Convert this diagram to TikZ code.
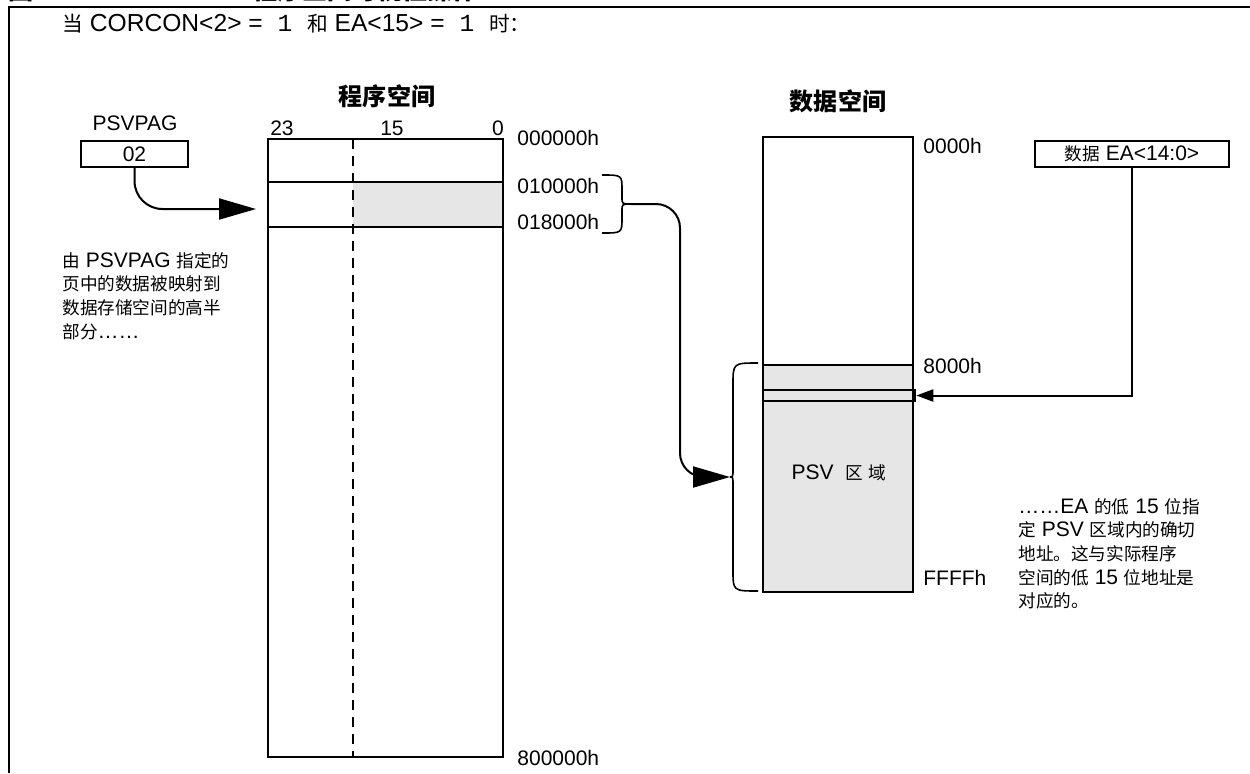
\documentclass[tikz,border=0pt]{standalone}
\usepackage{fontspec}
\setmainfont{Liberation Sans}
\newfontfamily\zhfont[Scale=0.84]{Noto Sans CJK SC}
\newfontfamily\onefont{Liberation Mono}
\usetikzlibrary{arrows.meta,positioning}
\definecolor{psvgray}{RGB}{230,230,230}
\newcommand{\zh}[1]{{\zhfont #1}}

\begin{document}
\begin{tikzpicture}[x=0.5pt,y=-0.5pt,>=Latex,
  every node/.style={font=\fontsize{10.5}{11.8}\selectfont,inner sep=0pt},
  heading/.style={font=\fontsize{14.3}{16}\selectfont\bfseries},
  figtitle/.style={font=\fontsize{14.9}{16}\selectfont\bfseries,anchor=base west},
  regbox/.style={draw,line width=0.8pt,minimum height=13pt},
  spacebox/.style={draw,line width=0.8pt},
  psvfill/.style={fill=psvgray},
  addr/.style={anchor=west},
  note/.style={align=left,anchor=north west},
  bigarrow/.style={-{Triangle[length=18.5pt,width=10.5pt]},line width=1pt},
  smallarrow/.style={-{Triangle[length=8.5pt,width=6pt]},line width=1pt},
  bracket/.style={line width=0.8pt}]
  \useasboundingbox (0,0) rectangle (1250,773);
  \clip (0,0) rectangle (1250,773);
  \node[figtitle] (fignum) at (8,-0.5) {\zh{图} 4-8\zh{：}};
  \node[figtitle] (figname) at (252,-0.5) {\zh{程序空间可视性操作}};
  \draw[line width=1pt] (8.5,773) -- (8.5,7) -- (1250,7);
  \node[anchor=west,font=\fontsize{12.3}{14}\selectfont] (cond) at (62,24)
    {\zh{当} CORCON<2> ={\onefont\ 1\ }\zh{和} EA<15> ={\onefont\ 1\ }\zh{时：}};

  % program space
  \node[heading] (progtitle) at (387,96) {\zh{程序空间}};
  \node (bit23) at (282,128) {23};
  \node (bit15) at (392,128) {15};
  \node (bit0) at (498,128) {0};
  \node[psvfill,minimum width=75pt,minimum height=22.5pt] (pagerow) at (428,204.5) {};
  \node[spacebox,minimum width=117.5pt,minimum height=309pt] (progbox) at (385.5,448) {};
  \draw[line width=0.8pt] (268,182) -- (503,182) (268,227) -- (503,227);
  \draw[line width=0.8pt,dash pattern=on 5pt off 3.5pt] (353,139) -- (353,757);
  \node[addr] (p000000) at (517,138) {000000h};
  \node[addr] (p010000) at (517,186) {010000h};
  \node[addr] (p018000) at (517,222) {018000h};
  \node[addr] (p800000) at (517,758) {800000h};

  \node (pagname) at (135,123) {PSVPAG};
  \node[regbox,minimum width=53.5pt] (pagbox) at (134.5,154) {02};
  \coordinate (pagein) at (256,209);
  \draw[bigarrow,rounded corners=14pt] (pagbox.south) |- (pagein);
  \node[note] (pagnote) at (62,252)
    {\zh{由} PSVPAG \zh{指定的}\\\zh{页中的数据被映射到}\\\zh{数据存储空间的高半}\\\zh{部分}……};

  % data space
  \node[heading] (datatitle) at (838,101) {\zh{数据空间}};
  \node[spacebox,minimum width=75pt,minimum height=227.5pt] (databox) at (838,364.5) {};
  \node[spacebox,psvfill,minimum width=75pt,minimum height=113.5pt] (psvarea) at (838,478.5) {};
  \node (psvlabel) at (839,473) {PSV\ \ \zh{区}\hspace{3pt}\zh{域}};
  \node[draw,line width=1.3pt,minimum width=76pt,minimum height=5.5pt] (easlot) at (839,395.5) {};
  \node[addr] (d0000) at (923,146) {0000h};
  \node[addr] (d8000) at (923,366) {8000h};
  \node[addr] (dffff) at (923,578) {FFFFh};
  \node[regbox,minimum width=97pt] (eabox) at (1132,154) {\zh{数据} EA<14:0>};
  \draw[smallarrow] (eabox.south) |- (easlot.east);
  \node[note] (eanote) at (1018,498)
    {……EA \zh{的低} 15 \zh{位指}\\\zh{定} PSV \zh{区域内的确切}\\\zh{地址。这与实际程序}\\\zh{空间的低} 15 \zh{位地址是}\\\zh{对应的。}};

  % page to PSV window
  \coordinate (pagetip) at (631,204);
  \coordinate (psvtip) at (730,477);
  \draw[bracket] (602,175) .. controls (622,175) .. (622,190) -- (622,197)
    .. controls (622,204) .. (pagetip) .. controls (622,204) .. (622,211)
    -- (622,218) .. controls (622,233) .. (602,233);
  \draw[bracket] (758,363) .. controls (733,363) .. (733,385) -- (733,468)
    .. controls (733,477) .. (psvtip) .. controls (733,477) .. (733,486)
    -- (733,570) .. controls (733,591) .. (758,591);
  \draw[bigarrow,rounded corners=12pt] (pagetip) -| (680,477) -- (psvtip);
\end{tikzpicture}
\end{document}
